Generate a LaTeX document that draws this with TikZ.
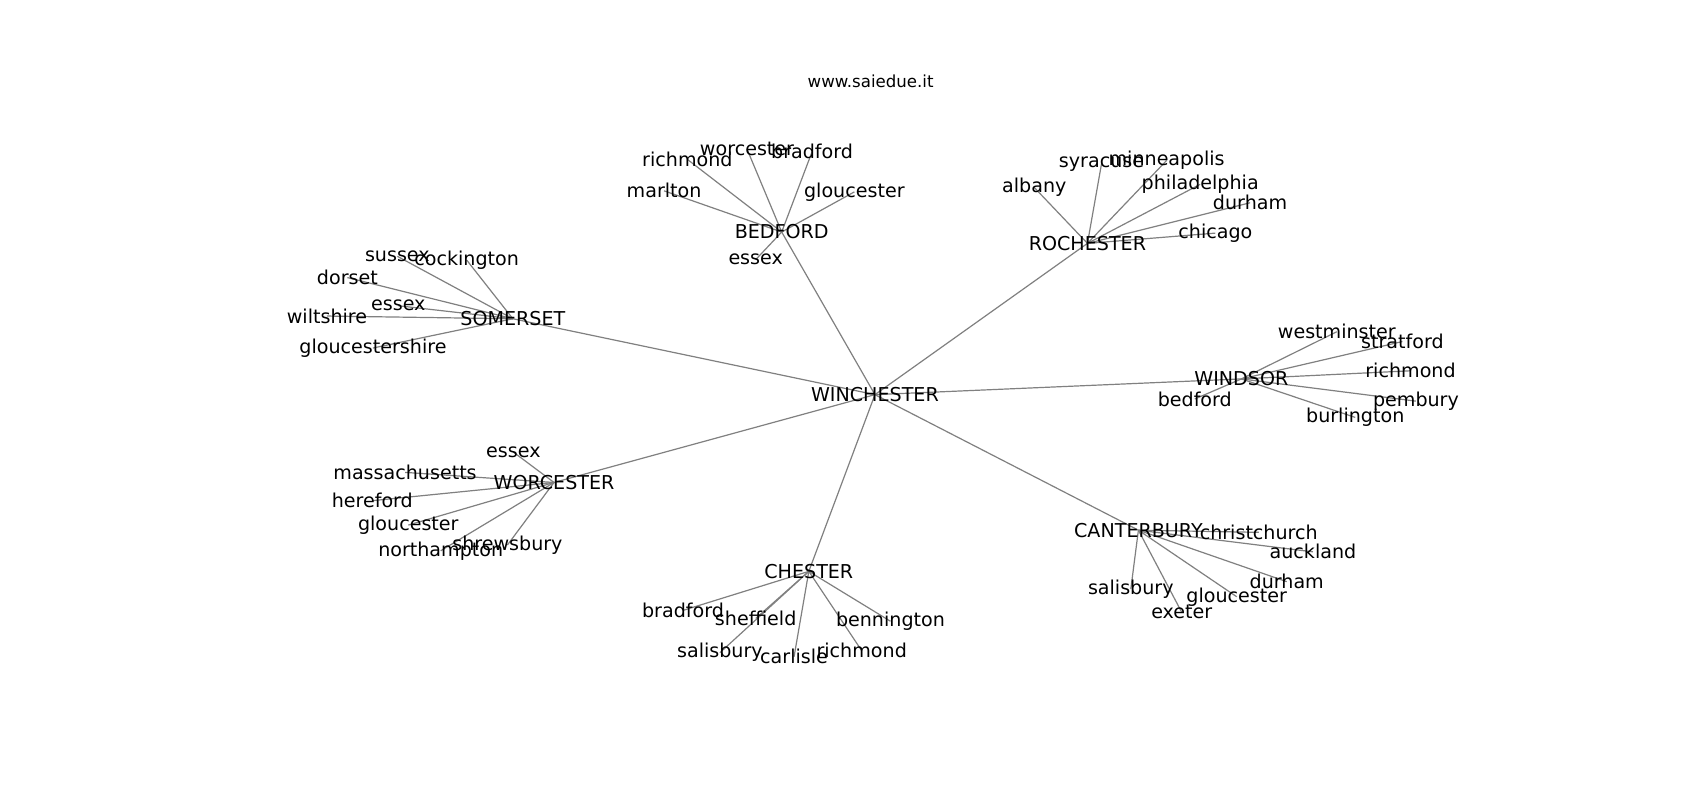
\documentclass[tikz,border=0pt]{standalone}
\usepackage{fontspec}
\setmainfont{DejaVu Sans}
\pgfdeclarelayer{bg}
\pgfsetlayers{bg,main}
\begin{document}
\begin{tikzpicture}[x=1.0842pt,y=-1.0842pt,
  lbl/.style={inner sep=0pt,font=\fontsize{19.1}{22}\selectfont},
  ttl/.style={inner sep=0pt,font=\fontsize{16.6}{19}\selectfont},
  edge/.style={draw=gray,line width=1.2pt}]
\useasboundingbox (0,0) rectangle (1568,738);
\node[ttl] (title) at (803,75) {www.saiedue.it};
% hubs
\node[lbl] (w) at (807,364) {WINCHESTER};
\node[lbl] (bed) at (721,214) {BEDFORD};
\node[lbl] (roc) at (1003,224.5) {ROCHESTER};
\node[lbl] (som) at (473,294) {SOMERSET};
\node[lbl] (win) at (1145,349.5) {WINDSOR};
\node[lbl] (wor) at (511,445) {WORCESTER};
\node[lbl] (che) at (746,527) {CHESTER};
\node[lbl] (can) at (1050,489) {CANTERBURY};
% bedford leaves
\node[lbl] (bed1) at (634,147) {richmond};
\node[lbl] (bed2) at (689,137.5) {worcester};
\node[lbl] (bed3) at (749,140) {bradford};
\node[lbl] (bed4) at (612.5,176) {marlton};
\node[lbl] (bed5) at (788,177) {gloucester};
\node[lbl] (bed6) at (697,239.5) {essex};
% rochester leaves
\node[lbl] (roc1) at (954,173) {albany};
\node[lbl] (roc2) at (1016,151) {syracuse};
\node[lbl] (roc3) at (1076,148) {minneapolis};
\node[lbl] (roc4) at (1107,170) {philadelphia};
\node[lbl] (roc5) at (1153,187) {durham};
\node[lbl] (roc6) at (1121,215) {chicago};
% somerset leaves
\node[lbl] (som1) at (366.5,236.4) {sussex};
\node[lbl] (som2) at (430.4,239.8) {cockington};
\node[lbl] (som3) at (320.4,256) {dorset};
\node[lbl] (som4) at (367.4,282) {essex};
\node[lbl] (som5) at (301.6,291.5) {wiltshire};
\node[lbl] (som6) at (344,321) {gloucestershire};
% windsor leaves
\node[lbl] (win1) at (1233,306) {westminster};
\node[lbl] (win2) at (1293.5,315) {stratford};
\node[lbl] (win3) at (1301,342) {richmond};
\node[lbl] (win4) at (1306,370) {pembury};
\node[lbl] (win5) at (1250,385) {burlington};
\node[lbl] (win6) at (1102,368) {bedford};
% worcester leaves
\node[lbl] (wor1) at (473.5,417) {essex};
\node[lbl] (wor2) at (373.6,435.7) {massachusetts};
\node[lbl] (wor3) at (343.4,461.8) {hereford};
\node[lbl] (wor4) at (376.6,484.3) {gloucester};
\node[lbl] (wor5) at (406.5,508) {northampton};
\node[lbl] (wor6) at (468,502.7) {shrewsbury};
% chester leaves
\node[lbl] (che1) at (630,563) {bradford};
\node[lbl] (che2) at (697,570.4) {sheffield};
\node[lbl] (che3) at (821.3,573) {bennington};
\node[lbl] (che4) at (664,602) {salisbury};
\node[lbl] (che5) at (732.4,605.7) {carlisle};
\node[lbl] (che6) at (794.8,600.2) {richmond};
% canterbury leaves
\node[lbl] (can1) at (1161,491) {christchurch};
\node[lbl] (can2) at (1211,509) {auckland};
\node[lbl] (can3) at (1186.8,536.5) {durham};
\node[lbl] (can4) at (1043,543.3) {salisbury};
\node[lbl] (can5) at (1140.7,550.4) {gloucester};
\node[lbl] (can6) at (1090,564.8) {exeter};
\begin{pgfonlayer}{bg}
\fill[white] (0,0) rectangle (1568,738);
\foreach \h in {bed,roc,som,win,wor,che,can}{
  \draw[edge] (w.center) -- (\h.center);
  \foreach \i in {1,...,6}{
    \draw[edge] (\h.center) -- (\h\i.center);
  }
}
\end{pgfonlayer}
\end{tikzpicture}
\end{document}
